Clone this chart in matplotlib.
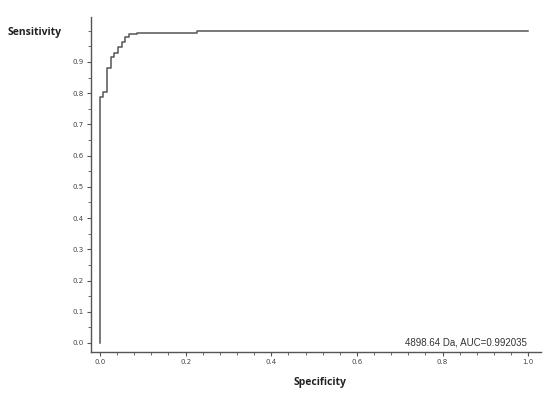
import matplotlib
matplotlib.use("Agg")
import matplotlib.pyplot as plt
from matplotlib.ticker import MultipleLocator

# ROC step points (1 - specificity axis labelled "Specificity", sensitivity)
spec = [0.0, 0.0, 0.006, 0.006, 0.016, 0.016, 0.025, 0.025, 0.033, 0.033,
        0.041, 0.041, 0.051, 0.051, 0.059, 0.059, 0.068, 0.068, 0.087, 0.087,
        0.227, 0.227, 1.0]
sens = [0.0, 0.789, 0.789, 0.805, 0.805, 0.881, 0.881, 0.916, 0.916, 0.929,
        0.929, 0.948, 0.948, 0.963, 0.963, 0.981, 0.981, 0.988, 0.988, 0.994,
        0.994, 1.0, 1.0]
xticks = [0.0, 0.2, 0.4, 0.6, 0.8, 1.0]
yticks = [0.0, 0.1, 0.2, 0.3, 0.4, 0.5, 0.6, 0.7, 0.8, 0.9]
annotation = "4898.64 Da, AUC=0.992035"

fig = plt.figure(figsize=(5.5, 3.93), dpi=100)
ax = fig.add_axes([91/550, 41/393, 450/550, 335/393])
ax.plot(spec, sens, color="#555555", lw=1.1)
ax.set_xlim(-0.021, 1.030)
ax.set_ylim(-0.029, 1.044)
ax.set_xticks(xticks)
ax.set_xticklabels([f"{v:.1f}" for v in xticks])
ax.set_yticks(yticks)
ax.set_yticklabels([f"{v:.1f}" for v in yticks])
ax.xaxis.set_minor_locator(MultipleLocator(0.04))
ax.yaxis.set_minor_locator(MultipleLocator(0.05))
for s in ["top", "right"]:
    ax.spines[s].set_visible(False)
for s in ["left", "bottom"]:
    ax.spines[s].set_color("#555555")
    ax.spines[s].set_linewidth(1.0)
ax.tick_params(which="major", length=3, width=0.8, color="#555555",
               labelsize=5, labelcolor="#444444", pad=2)
ax.tick_params(which="minor", length=2, width=0.6, color="#555555")
ax.text(0.998, 0.0, annotation, ha="right", va="center", fontsize=7,
        color="#333333", transform=ax.transData, family="Liberation Sans")
fig.text(35/550, 1 - 32/393, "Sensitivity", ha="center", va="center",
         fontsize=7.5, fontweight="bold", color="#222222", family="Open Sans")
fig.text(320/550, 1 - 382/393, "Specificity", ha="center", va="center",
         fontsize=7.5, fontweight="bold", color="#222222", family="Open Sans")
fig.savefig("out.png", dpi=100)
